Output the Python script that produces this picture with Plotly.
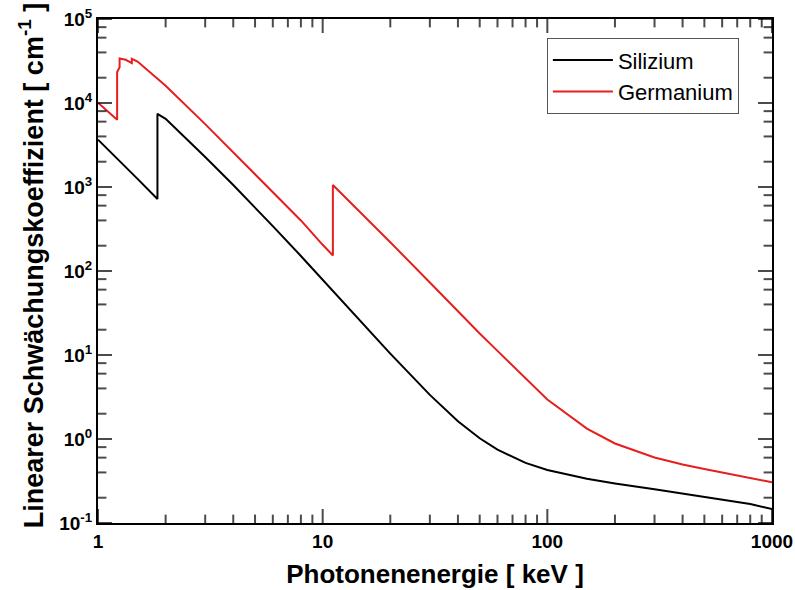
import plotly.graph_objects as go

# Photon energy [keV] and linear attenuation coefficient [cm^-1]
si_energy = [1.0, 1.25, 1.5, 1.8389, 1.8389, 2.0, 2.5, 3.0, 4.0, 5.0, 6.0, 8.0, 10.0,
             15.0, 20.0, 30.0, 40.0, 50.0, 60.0, 80.0, 100.0, 150.0, 200.0, 300.0,
             400.0, 500.0, 600.0, 800.0, 1000.0]
si_mu = [3660, 2050, 1250, 720, 7440, 6470, 3700, 2280, 1055, 571, 342, 151, 79.0,
         24.1, 10.4, 3.35, 1.63, 1.02, 0.747, 0.519, 0.428, 0.337, 0.296, 0.252,
         0.224, 0.204, 0.189, 0.168, 0.147]

ge_energy = [1.0, 1.103, 1.2167, 1.2167, 1.232, 1.2478, 1.2478, 1.328, 1.4143, 1.4143,
             1.5, 2.0, 3.0, 4.0, 5.0, 6.0, 8.0, 10.0, 11.103, 11.103, 15.0, 20.0,
             30.0, 40.0, 50.0, 60.0, 80.0, 100.0, 150.0, 200.0, 300.0, 400.0, 500.0,
             600.0, 800.0, 1000.0]
ge_mu = [10080, 8000, 6330, 23400, 25200, 26600, 33800, 32700, 29800, 33500,
         31100, 16000, 5600, 2600, 1440, 880, 400, 205, 153, 1054, 480, 220,
         73, 33, 18, 11.2, 5.3, 2.95, 1.33, 0.884, 0.602, 0.496, 0.44,
         0.40, 0.35, 0.305]

x_tickvals = [1, 10, 100, 1000]
x_ticktext = ["1", "10", "100", "1000"]
x_minor = [m * d for d in (1, 10, 100) for m in range(2, 10)]

y_tickvals = [0.1, 1, 10, 100, 1000, 10000, 100000]
y_ticktext = ["10<sup>-1</sup>", "10<sup>0</sup>", "10<sup>1</sup>", "10<sup>2</sup>",
              "10<sup>3</sup>", "10<sup>4</sup>", "10<sup>5</sup>"]
y_minor = [m * d for d in (0.1, 1, 10, 100, 1000, 10000) for m in (2, 4, 6, 8)]

x_title = "Photonenenergie [ keV ]"
y_title = "Linearer Schwächungskoeffizient [ cm<sup>-1</sup> ]"

FONT = "Liberation Sans, Arial, sans-serif"
X_RANGE = [0, 3]
Y_RANGE = [-1, 5]
MAJOR_LEN, MINOR_LEN = 10, 6

fig = go.Figure()
fig.add_trace(go.Scatter(x=si_energy, y=si_mu, mode="lines", name="Silizium",
                         line=dict(color="black", width=2)))
fig.add_trace(go.Scatter(x=ge_energy, y=ge_mu, mode="lines", name="Germanium",
                         line=dict(color="#e61e1e", width=2)))

# Inward tick marks on all four frame edges: line markers centred on the frame,
# clipped to the plot area so only the inner half remains.
x_lo, x_hi = 10 ** X_RANGE[0], 10 ** X_RANGE[1]
y_lo, y_hi = 10 ** Y_RANGE[0], 10 ** Y_RANGE[1]
tx, ty, tsym, tsize = [], [], [], []
for vals, length in ((x_tickvals, MAJOR_LEN), (x_minor, MINOR_LEN)):
    for v in vals:
        for edge in (y_lo, y_hi):
            tx.append(v); ty.append(edge); tsym.append("line-ns"); tsize.append(2 * length)
for vals, length in ((y_tickvals, MAJOR_LEN), (y_minor, MINOR_LEN)):
    for v in vals:
        for edge in (x_lo, x_hi):
            tx.append(edge); ty.append(v); tsym.append("line-ew"); tsize.append(2 * length)
fig.add_trace(go.Scatter(x=tx, y=ty, mode="markers", showlegend=False, hoverinfo="skip",
                         cliponaxis=True,
                         marker=dict(symbol=tsym, size=tsize, color="black",
                                     line=dict(color="black", width=2))))

fig.update_layout(
    width=795, height=590,
    margin=dict(l=98, r=23, t=19, b=67),
    paper_bgcolor="white", plot_bgcolor="white",
    showlegend=True,
    xaxis=dict(type="log", range=X_RANGE, tickmode="array",
               tickvals=x_tickvals, ticktext=x_ticktext, ticks="",
               showline=True, linecolor="black", linewidth=2, mirror=True,
               showgrid=False, zeroline=False, automargin=False,
               tickfont=dict(family=FONT, size=19, color="black", weight="bold"),
               title=dict(text=x_title, standoff=14,
                          font=dict(family=FONT, size=26, color="black", weight="bold"))),
    yaxis=dict(type="log", range=Y_RANGE, tickmode="array",
               tickvals=y_tickvals, ticktext=y_ticktext, ticks="",
               showline=True, linecolor="black", linewidth=2, mirror=True,
               showgrid=False, zeroline=False, automargin=False,
               tickfont=dict(family=FONT, size=19, color="black", weight="bold")),
    legend=dict(x=0.666, y=0.962, xanchor="left", yanchor="top",
                bgcolor="white", bordercolor="#555555", borderwidth=1,
                font=dict(family=FONT, size=22, color="black"),
                itemwidth=60, tracegroupgap=0),
    annotations=[dict(text=y_title, xref="paper", yref="paper", x=-0.099, y=0.51,
                      xanchor="center", yanchor="middle", textangle=-90,
                      showarrow=False,
                      font=dict(family=FONT, size=27, color="black", weight="bold"))],
)

fig.write_html("out.html")
